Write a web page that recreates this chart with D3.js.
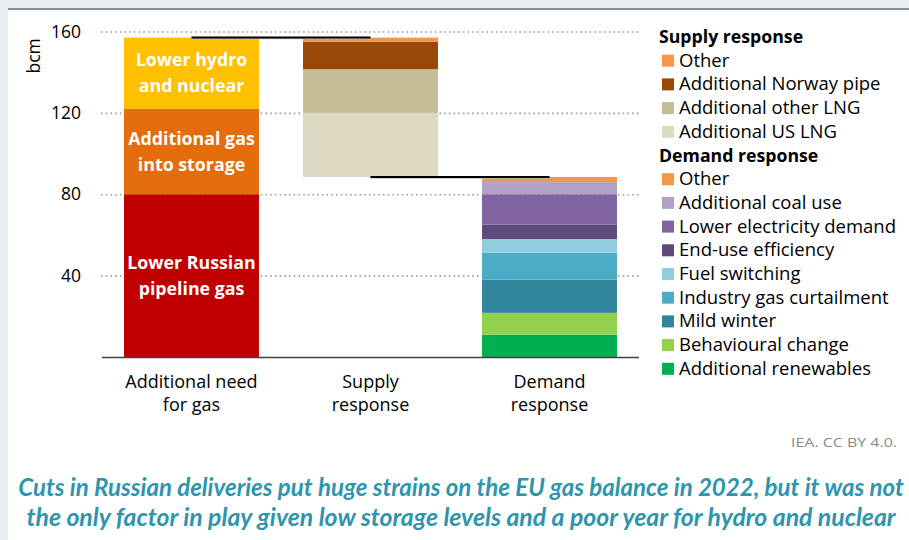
<!DOCTYPE html>
<html>
<head>
<meta charset="utf-8">
<script src="https://cdn.jsdelivr.net/npm/d3@7"></script>
<style>
  html, body { margin: 0; padding: 0; background: #e8edf1; }
  svg { display: block; }
</style>
</head>
<body>
<svg id="chart" width="909" height="540"></svg>
<script>
// EU gas balance 2022 (bcm): additional need vs supply and demand responses
const categories = ["Additional need\nfor gas", "Supply\nresponse", "Demand\nresponse"];

const needSeries = ["Lower Russian\npipeline gas", "Additional gas\ninto storage", "Lower hydro\nand nuclear"];
const needValues = [80, 42, 35];
const needColors = ["#c00000", "#e46c0a", "#ffc000"];

const supplySeries = ["Additional US LNG", "Additional other LNG", "Additional Norway pipe", "Other"];
const supplyValues = [31.5, 21.5, 13.5, 2];
const supplyColors = ["#ddd9c3", "#c4bd97", "#984807", "#f79646"];

const demandSeries = ["Additional renewables", "Behavioural change", "Mild winter", "Industry gas curtailment",
  "Fuel switching", "End-use efficiency", "Lower electricity demand", "Additional coal use", "Other"];
const demandValues = [11, 10.7, 16.3, 13.2, 6.8, 7, 15, 6, 2.5];
const demandColors = ["#00b050", "#92d050", "#31859c", "#4bacc6", "#93cddd", "#604a7b", "#8064a2", "#b3a2c7", "#f79646"];

const yTicks = [40, 80, 120, 160];
const yLabel = "bcm";
const credit = "IEA. CC BY 4.0.";
const captionLines = [
  "Cuts in Russian deliveries put huge strains on the EU gas balance in 2022, but it was not",
  "the only factor in play given low storage levels and a poor year for hydro and nuclear"
];

const FONT = "'Open Sans', Lato, sans-serif";
const CAP_FONT = "Lato, 'Open Sans', sans-serif";
const svg = d3.select("#chart");

// fit a text element to a target width by adjusting its font size
function fitWidth(t, base, target) {
  const w = t.node().getComputedTextLength();
  t.attr("font-size", base * target / w);
}

// white card with a grey top rule
svg.append("rect").attr("x", 8).attr("y", 8).attr("width", 901).attr("height", 532).attr("fill", "#ffffff");
svg.append("rect").attr("x", 8).attr("y", 8).attr("width", 901).attr("height", 2).attr("fill", "#8c8c8c");

const x = d3.scaleBand().domain(categories).range([102, 639]).paddingInner(0.246).paddingOuter(0.123);
const y = d3.scaleLinear().domain([0, 160]).range([357, 31.5]);

// dotted gridlines + tick labels
const yAxis = d3.axisLeft(y).tickValues(yTicks).tickSize(-(639 - 101)).tickPadding(20);
const gy = svg.append("g").attr("transform", "translate(101,0)").call(yAxis);
gy.select(".domain").remove();
gy.selectAll(".tick line").attr("stroke", "#9a9a9a").attr("stroke-width", 1.6)
  .attr("stroke-dasharray", "1.6,3.1");
gy.selectAll(".tick text").attr("font-family", FONT).attr("font-size", 17.5).attr("fill", "#000");

svg.append("text").attr("transform", `translate(40,${y(148)}) rotate(-90)`)
  .attr("text-anchor", "middle").attr("font-family", FONT).attr("font-size", 17.5).text(yLabel);

// build stacked segments for each column
function stack(series, values, colors, base) {
  let acc = base;
  return values.map((v, i) => {
    const seg = { name: series[i], y0: acc, y1: acc + v, color: colors[i] };
    acc += v;
    return seg;
  });
}
const needTotal = d3.sum(needValues);
const demandTotal = d3.sum(demandValues);
const cols = [
  { cat: categories[0], segs: stack(needSeries, needValues, needColors, 0) },
  { cat: categories[1], segs: stack(supplySeries, supplyValues, supplyColors, demandTotal) },
  { cat: categories[2], segs: stack(demandSeries, demandValues, demandColors, 0) }
];

cols.forEach(c => {
  svg.append("g").selectAll("rect").data(c.segs).join("rect")
    .attr("x", x(c.cat)).attr("width", x.bandwidth())
    .attr("y", d => y(d.y1)).attr("height", d => y(d.y0) - y(d.y1))
    .attr("fill", d => d.color);
});

const cx = c => x(c) + x.bandwidth() / 2;

// labels inside the need column
const labelG = svg.append("g");
cols[0].segs.forEach(s => {
  const lines = s.name.split("\n");
  const cy = (y(s.y0) + y(s.y1)) / 2;
  lines.forEach((ln, i) => {
    labelG.append("text").attr("text-anchor", "middle").attr("font-family", FONT)
      .attr("font-weight", "bold").attr("font-size", 17.8).attr("fill", "#fff")
      .attr("x", cx(categories[0]))
      .attr("y", cy + (i - (lines.length - 1) / 2) * 26 + 6).text(ln);
  });
});

// waterfall connectors
[[categories[0], categories[1], needTotal], [categories[1], categories[2], demandTotal]].forEach(([a, b, v]) => {
  svg.append("line").attr("x1", cx(a)).attr("x2", cx(b)).attr("y1", y(v) + 1).attr("y2", y(v) + 1)
    .attr("stroke", "#bbbbbb").attr("stroke-width", 1.5);
  svg.append("line").attr("x1", cx(a)).attr("x2", cx(b)).attr("y1", y(v)).attr("y2", y(v))
    .attr("stroke", "#000").attr("stroke-width", 2);
});

// baseline
svg.append("line").attr("x1", 102).attr("x2", 639).attr("y1", y(0) + 0.5).attr("y2", y(0) + 0.5)
  .attr("stroke", "#404040").attr("stroke-width", 1.3);

// category labels, one text per line
categories.forEach(c => {
  c.split("\n").forEach((ln, i) => {
    svg.append("text").attr("text-anchor", "middle").attr("font-family", FONT)
      .attr("font-size", 18).attr("fill", "#000")
      .attr("x", cx(c)).attr("y", 387.5 + i * 23).text(ln);
  });
});

// legend
const legendRows = [
  { head: "Supply response" },
  ...supplySeries.map((n, i) => ({ name: n, color: supplyColors[i] })).reverse(),
  { head: "Demand response" },
  ...demandSeries.map((n, i) => ({ name: n, color: demandColors[i] })).reverse()
];
const lg = svg.append("g");
legendRows.forEach((r, i) => {
  const cyRow = 37 + i * 23.7;
  if (r.head) {
    lg.append("text").attr("x", 659).attr("y", cyRow + 6).attr("font-family", FONT)
      .attr("font-weight", "bold").attr("font-size", 17.7).attr("fill", "#000").text(r.head);
  } else {
    lg.append("rect").attr("x", 662).attr("y", cyRow - 6).attr("width", 12).attr("height", 12).attr("fill", r.color);
    lg.append("text").attr("x", 679).attr("y", cyRow + 6).attr("font-family", FONT)
      .attr("font-size", 18.5).attr("fill", "#000").text(r.name);
  }
});

// source credit
svg.append("text").attr("x", 897).attr("y", 447).attr("text-anchor", "end")
  .attr("font-family", FONT).attr("font-size", 13)
  .attr("fill", "#8a8a8a").attr("textLength", 106).attr("lengthAdjust", "spacingAndGlyphs").text(credit);

// caption, sized to span the card
captionLines.forEach((ln, i) => {
  const t = svg.append("text").attr("x", 461).attr("y", 496 + i * 30).attr("text-anchor", "middle")
    .attr("font-family", CAP_FONT).attr("font-weight", "bold").attr("font-style", "italic")
    .attr("font-size", 20).attr("fill", "#2e95ae").text(ln);
  fitWidth(t, 20, i === 0 ? 886 : 870);
});
</script>
</body>
</html>
